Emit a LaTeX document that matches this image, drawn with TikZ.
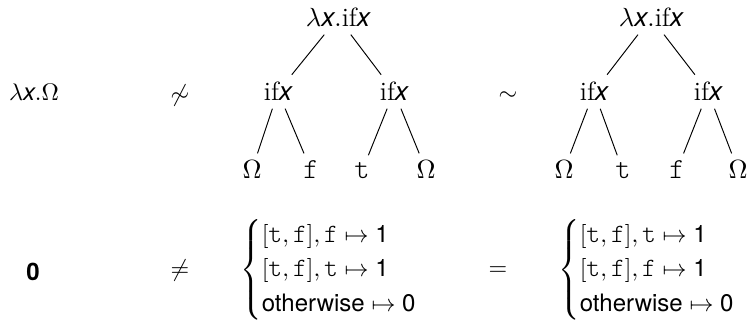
\documentclass[tikz,border=0pt]{standalone}
\usepackage{amsmath,amssymb}
\usepackage{fontspec}
\setsansfont{TeX Gyre Heros}
\setmonofont[Scale=1.1]{Latin Modern Mono Light}
\usetikzlibrary{positioning}

\newcommand{\vx}{\textsf{\itshape x}}
\newcommand{\cond}{\mathrm{if}\vx}
\newcommand{\tval}{\texttt{t}}
\newcommand{\fval}{\texttt{f}}

\begin{document}
\begin{tikzpicture}[
    x=0.4167pt, y=-0.4167pt,
    term/.style={anchor=base, inner sep=3pt, font=\fontsize{11}{13}\selectfont},
    rel/.style={inner sep=0pt},
    fun/.style={anchor=west, inner sep=0pt}
]
\useasboundingbox (0,0) rectangle (748,321);

% Left-hand terms
\node[term, font=\normalsize] (lhs) at (34,101) {$\lambda\vx.\Omega$};
\node[rel] (nsim) at (180,96) {$\not\sim$};
\node[rel] (sim) at (508,96) {$\sim$};

% First tree
\node[term] (ra) at (338,27) {$\lambda\vx.\cond$};
\node[term] (la) at (278,101) {$\cond$};
\node[term] (ma) at (394,101) {$\cond$};
\node[term] (a1) at (252,179) {$\Omega$};
\node[term] (a2) at (311,179) {$\fval$};
\node[term] (a3) at (362,179) {$\tval$};
\node[term] (a4) at (426,179) {$\Omega$};
\draw (ra) -- (la);
\draw (ra) -- (ma);
\draw (la) -- (a1);
\draw (la) -- (a2);
\draw (ma) -- (a3);
\draw (ma) -- (a4);

% Second tree
\node[term] (rb) at (651,27) {$\lambda\vx.\cond$};
\node[term] (lb) at (594,101) {$\cond$};
\node[term] (mb) at (708,101) {$\cond$};
\node[term] (b1) at (564,179) {$\Omega$};
\node[term] (b2) at (623,179) {$\tval$};
\node[term] (b3) at (677,179) {$\fval$};
\node[term] (b4) at (738,179) {$\Omega$};
\draw (rb) -- (lb);
\draw (rb) -- (mb);
\draw (lb) -- (b1);
\draw (lb) -- (b2);
\draw (mb) -- (b3);
\draw (mb) -- (b4);

% Denotations
\node[rel] (zero) at (33,272) {\sffamily\bfseries 0};
\node[rel] (neq) at (180,271) {$\neq$};
\node[fun] (fa) at (240,270) {$\begin{cases}
  [\tval,\fval],\fval\mapsto\textsf{1}\\
  [\tval,\fval],\tval\mapsto\textsf{1}\\
  \textsf{otherwise}\mapsto\textsf{0}
\end{cases}$};
\node[rel] (eq) at (498,271) {$=$};
\node[fun] (fb) at (558,270) {$\begin{cases}
  [\tval,\fval],\tval\mapsto\textsf{1}\\
  [\tval,\fval],\fval\mapsto\textsf{1}\\
  \textsf{otherwise}\mapsto\textsf{0}
\end{cases}$};

\end{tikzpicture}
\end{document}
